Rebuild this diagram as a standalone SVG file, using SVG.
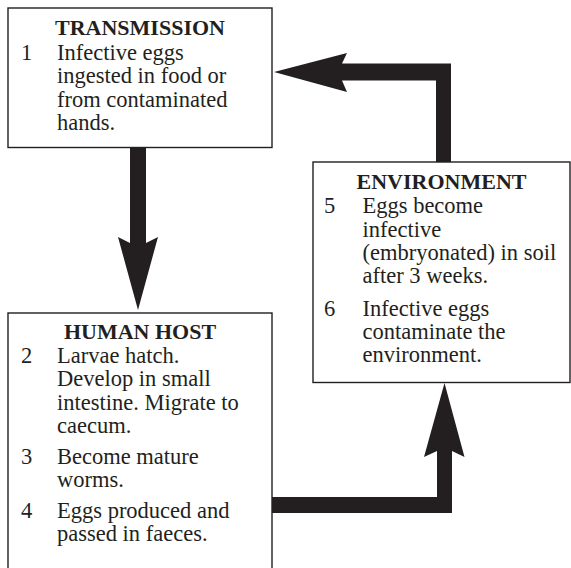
<svg xmlns="http://www.w3.org/2000/svg" width="571" height="568" viewBox="0 0 571 568">
<style>
.box{fill:#fff;stroke:#231f20;stroke-width:1.4}
.t{font-family:"Liberation Serif","Times New Roman",serif;font-size:22.5px;fill:#231f20}
.h{font-family:"Liberation Serif","Times New Roman",serif;font-size:22px;font-weight:bold;fill:#231f20;text-anchor:middle}
.arrow{fill:#231f20;stroke:none}
</style>
<rect width="571" height="568" fill="#fff"/>
<g id="connectors">
<path class="arrow" d="M130,147 H146 V243 L158,237 L138,310 L118,237 L130,243 Z"/>
<path class="arrow" d="M436,162 V80.5 H342 L347,92 L274,72 L347,53 L342,63.5 H451 V162 Z"/>
<path class="arrow" d="M272,497 H437 V451 L424,457 L444.5,383 L464.5,457 L452,451 V513 H272 Z"/>
</g>
<g id="transmission">
<rect class="box" x="8" y="8" width="264" height="139.5"/>
<text class="h" x="140" y="34.5">TRANSMISSION</text>
<text class="t" x="21" y="60">1</text>
<text class="t" x="57"><tspan x="57" y="60">Infective eggs</tspan><tspan x="57" y="83.3">ingested in food or</tspan><tspan x="57" y="106.7">from contaminated</tspan><tspan x="57" y="130">hands.</tspan></text>
</g>
<g id="environment">
<rect class="box" x="313" y="162" width="257" height="220.5"/>
<text class="h" x="441.5" y="189.3">ENVIRONMENT</text>
<text class="t" x="324" y="213.3">5</text>
<text class="t"><tspan x="362.5" y="213.3">Eggs become</tspan><tspan x="362.5" y="236.6">infective</tspan><tspan x="362.5" y="260">(embryonated) in soil</tspan><tspan x="362.5" y="283.3">after 3 weeks.</tspan></text>
<text class="t" x="324" y="315.8">6</text>
<text class="t"><tspan x="362.5" y="315.8">Infective eggs</tspan><tspan x="362.5" y="339.1">contaminate the</tspan><tspan x="362.5" y="362.4">environment.</tspan></text>
</g>
<g id="human-host">
<rect class="box" x="8" y="313" width="264" height="270"/>
<text class="h" x="140" y="339">HUMAN HOST</text>
<text class="t" x="21" y="363">2</text>
<text class="t"><tspan x="57" y="363">Larvae hatch.</tspan><tspan x="57" y="386.3">Develop in small</tspan><tspan x="57" y="409.6">intestine. Migrate to</tspan><tspan x="57" y="433">caecum.</tspan></text>
<text class="t" x="21" y="463.5">3</text>
<text class="t"><tspan x="57" y="463.5">Become mature</tspan><tspan x="57" y="486.8">worms.</tspan></text>
<text class="t" x="21" y="517.5">4</text>
<text class="t"><tspan x="57" y="517.5">Eggs produced and</tspan><tspan x="57" y="540.8">passed in faeces.</tspan></text>
</g>
</svg>
